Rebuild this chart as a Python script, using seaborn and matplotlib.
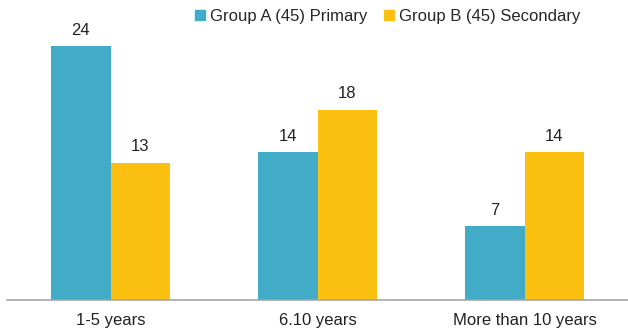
import matplotlib
matplotlib.use("Agg")
import matplotlib.pyplot as plt
import pandas as pd
import seaborn as sns
from matplotlib.lines import Line2D

categories = ["1-5 years", "6.10 years", "More than 10 years"]
series = ["Group A (45) Primary", "Group B (45) Secondary"]
group_a = [24, 14, 7]
group_b = [13, 18, 14]
colors = ["#42ABC7", "#FCC010"]

df = pd.DataFrame({
    "Category": categories * 2,
    "Group": [series[0]] * 3 + [series[1]] * 3,
    "Value": group_a + group_b,
})

sns.set_theme(style="white")
plt.rcParams["font.family"] = ["Liberation Sans", "DejaVu Sans"]

fig = plt.figure(figsize=(6.28, 3.3), dpi=100)
ax = fig.add_axes([7 / 628, 30 / 330, 1 - 7 / 628, 296 / 330])
sns.barplot(data=df, x="Category", y="Value", hue="Group", palette=colors,
            width=0.573, saturation=1, linewidth=0, legend=False, ax=ax)
for c in ax.containers:
    ax.bar_label(c, fontsize=12, padding=6, color="#222222")

ax.set_ylim(0, 28)
ax.set_xlim(-0.5, 2.5)
ax.set_xlabel("")
ax.set_ylabel("")
ax.set_yticks([])
ax.tick_params(axis="x", labelsize=12, length=0, pad=9, colors="#222222")
for s in ["top", "right", "left"]:
    ax.spines[s].set_visible(False)
ax.spines["bottom"].set_color("#A6A6A6")
ax.spines["bottom"].set_linewidth(1.2)

handles = [Line2D([0], [0], marker="s", linestyle="", markersize=7,
                  markerfacecolor=col, markeredgecolor=col) for col in colors]
fig.legend(handles, series, loc="center", bbox_to_anchor=(388 / 628, 1 - 16 / 330),
           ncol=2, frameon=False, fontsize=12, handlelength=0.6,
           handletextpad=0.3, columnspacing=1.0)

fig.savefig("out.png", dpi=100)
